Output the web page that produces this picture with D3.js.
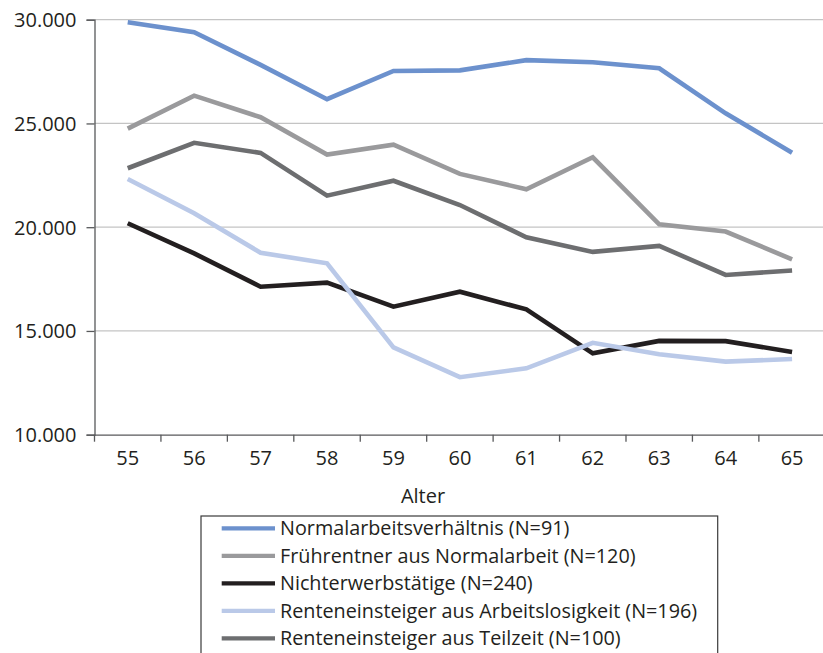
<!DOCTYPE html>
<html><head><meta charset="utf-8">
<script src="https://cdn.jsdelivr.net/npm/d3@7"></script>
<style>
html,body{margin:0;padding:0;background:#fff;}
svg{display:block;font-family:"Open Sans",sans-serif;}
</style></head>
<body>
<svg id="chart" width="823" height="653"></svg>
<script>
const ages = ["55","56","57","58","59","60","61","62","63","64","65"];
const yTicks = [10000,15000,20000,25000,30000];
const seriesNames = [
  "Normalarbeitsverhältnis (N=91)",
  "Frührentner aus Normalarbeit (N=120)",
  "Nichterwerbstätige (N=240)",
  "Renteneinsteiger aus Arbeitslosigkeit (N=196)",
  "Renteneinsteiger aus Teilzeit (N=100)"
];
const normalarbeit   = [29880,29400,27820,26170,27530,27560,28050,27950,27660,25490,23590];
const fruehrentner   = [24750,26340,25300,23500,23980,22570,21830,23370,20140,19790,18450];
const nichterwerb    = [20190,18740,17130,17330,16170,16890,16040,13920,14520,14510,13990];
const arbeitslos     = [22320,20670,18770,18260,14210,12770,13200,14430,13880,13520,13650];
const teilzeit       = [22840,24070,23580,21520,22240,21070,19510,18810,19100,17700,17910];
const seriesValues = [normalarbeit, fruehrentner, nichterwerb, arbeitslos, teilzeit];
const colors = ["#6c91cd","#9a9a9c","#231f20","#bac9e8","#6d6e70"];

const svg = d3.select("#chart");
const mLeft = 94.5, mRight = 825.3, mTop = 19.7, mBottom = 434.7;

const x = d3.scaleBand().domain(ages).range([mLeft, mRight]).paddingInner(0).paddingOuter(0);
const y = d3.scaleLinear().domain([10000, 30000]).range([mBottom, mTop]);
const fmt = d => d3.format(",")(d).replace(/,/g, ".");

// gridlines
svg.append("g").selectAll("line").data(yTicks.filter(d => d > 10000)).join("line")
  .attr("x1", mLeft).attr("x2", 823)
  .attr("y1", d => y(d)).attr("y2", d => y(d))
  .attr("stroke", "#c4c4c4").attr("stroke-width", 1.2);

// y axis
const yAxis = svg.append("g").attr("transform", `translate(${mLeft},0)`)
  .call(d3.axisLeft(y).tickValues(yTicks).tickFormat(fmt).tickSize(8).tickPadding(10));
yAxis.select(".domain").attr("stroke", "#58595b").attr("stroke-width", 1.3);
yAxis.selectAll(".tick line").attr("stroke", "#58595b").attr("stroke-width", 1.3);
yAxis.selectAll(".tick text").attr("font-size", 20).attr("fill", "#231f20")
  .attr("font-family", "'Open Sans',sans-serif").attr("dy", "0.34em");

// x axis
const xAxis = svg.append("g").attr("transform", `translate(0,${mBottom})`)
  .call(d3.axisBottom(x).tickSize(0).tickPadding(16));
xAxis.select(".domain").attr("stroke", "#58595b").attr("stroke-width", 1.3);
xAxis.selectAll(".tick text").attr("font-size", 20).attr("fill", "#231f20")
  .attr("font-family", "'Open Sans',sans-serif");
// band-boundary tick marks
svg.append("g").selectAll("line").data(ages).join("line")
  .attr("x1", d => x(d)).attr("x2", d => x(d))
  .attr("y1", mBottom).attr("y2", mBottom + 7)
  .attr("stroke", "#58595b").attr("stroke-width", 1.3);

svg.append("text").attr("x", 423).attr("y", 498).attr("text-anchor", "middle")
  .attr("font-size", 20).attr("fill", "#231f20").attr("dominant-baseline","middle").text("Alter");

// lines
const line = d3.line().x((d, i) => x(ages[i]) + x.bandwidth() / 2).y(d => y(d));
svg.append("g").selectAll("path").data(seriesValues).join("path")
  .attr("d", d => line(d)).attr("fill", "none")
  .attr("stroke", (d, i) => colors[i]).attr("stroke-width", 4.6)
  .attr("stroke-linejoin", "miter").attr("stroke-linecap", "butt");

// legend
const lg = svg.append("g");
lg.append("rect").attr("x", 201).attr("y", 516).attr("width", 516.7).attr("height", 160)
  .attr("fill", "#fff").attr("stroke", "#3a3a3a").attr("stroke-width", 1.2);
const items = lg.selectAll("g.item").data(seriesNames).join("g").attr("class", "item")
  .attr("transform", (d, i) => `translate(0,${528.3 + i * 27.5})`);
items.append("line").attr("x1", 221.7).attr("x2", 275).attr("y1", 0).attr("y2", 0)
  .attr("stroke", (d, i) => colors[i]).attr("stroke-width", 4.3);
items.append("text").attr("x", 280).attr("y", 0).attr("dy", "0.35em")
  .attr("font-size", 19.8).attr("fill", "#231f20").text(d => d);
</script>
</body></html>
